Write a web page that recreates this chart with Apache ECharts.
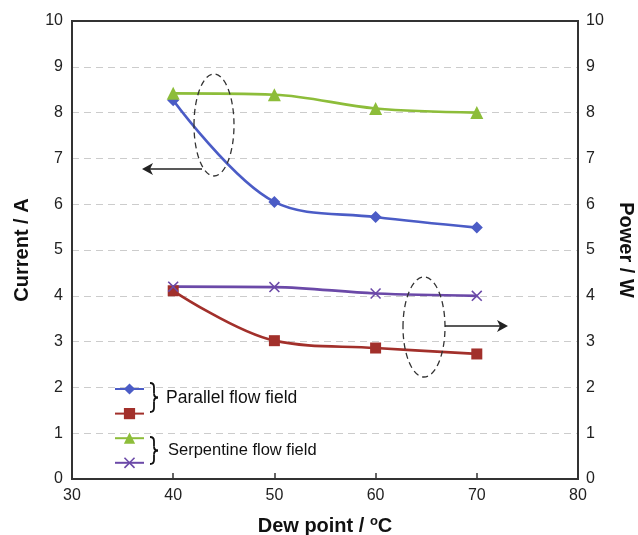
<!DOCTYPE html>
<html><head><meta charset="utf-8">
<script src="https://cdn.jsdelivr.net/npm/echarts@6/dist/echarts.min.js"></script>
<style>html,body{margin:0;padding:0;background:#fff}#c{width:638px;height:535px}</style>
</head><body><div id="c"></div>
<script>
const dewPoint = [40, 50, 60, 70];
const parallelCurrent = [8.27, 6.05, 5.72, 5.49];
const serpentineCurrent = [8.42, 8.39, 8.09, 8.0];
const parallelPower = [4.11, 3.02, 2.86, 2.73];
const serpentinePower = [4.2, 4.19, 4.05, 4.0];
const xTicks = [30, 40, 50, 60, 70, 80];
const yTicks = [0, 1, 2, 3, 4, 5, 6, 7, 8, 9, 10];

const pair = (xs, ys) => xs.map((x, i) => [x, ys[i]]);
const xPath = 'path://M0,1 L1,0 L5,4 L9,0 L10,1 L6,5 L10,9 L9,10 L5,6 L1,10 L0,9 L4,5 Z';
const font = 'Liberation Sans, Arial, sans-serif';

function brace(x, y1, y2) {
  const ym = (y1 + y2) / 2, m = x + 4, tip = x + 8, r = 4;
  const st = {stroke: '#111', lineWidth: 1.8, fill: 'none'};
  const q = (ax, ay, cx, cy, bx, by) => ({type: 'bezierCurve', shape: {x1: ax, y1: ay, cpx1: cx, cpy1: cy, x2: bx, y2: by}, style: st, z: 10});
  const l = (ax, ay, bx, by) => ({type: 'line', shape: {x1: ax, y1: ay, x2: bx, y2: by}, style: st, z: 10});
  return [
    q(x, y1, m, y1, m, y1 + r), l(m, y1 + r, m, ym - r), q(m, ym - r, m, ym, tip, ym),
    q(tip, ym, m, ym, m, ym + r), l(m, ym + r, m, y2 - r), q(m, y2 - r, m, y2, x, y2)
  ];
}

const chart = echarts.init(document.getElementById('c'), null, {renderer: 'canvas'});
const mkSeries = (name, data, yIdx, color, symbol, size) => ({
  name, type: 'line', yAxisIndex: yIdx, data, smooth: 0.35,
  symbol, symbolSize: size, lineStyle: {color, width: 2.7},
  itemStyle: {color}, z: 3
});
chart.setOption({
  animation: false,
  grid: {left: 72, right: 60, top: 21, bottom: 56, outerBoundsMode: 'none', containLabel: false,
    show: true, borderColor: '#333', borderWidth: 2, backgroundColor: 'transparent'},
  xAxis: [{
    type: 'value', min: xTicks[0], max: xTicks[xTicks.length - 1], interval: 10,
    axisLine: {show: true, lineStyle: {color: '#333', width: 2}},
    axisTick: {show: true, inside: true, length: 6, lineStyle: {color: '#333', width: 1.5}},
    axisLabel: {color: '#222', fontSize: 16, fontFamily: font, margin: 9},
    splitLine: {show: false},
    name: 'Dew point / {sup|o}C', nameLocation: 'middle', nameGap: 36,
    nameTextStyle: {fontSize: 20, fontWeight: 'bold', color: '#111', fontFamily: font,
      rich: {sup: {fontSize: 13, fontWeight: 'bold', color: '#111', verticalAlign: 'top', padding: [0, 0, 9, 0], fontFamily: font}}}
  }, {
    type: 'value', position: 'top', min: xTicks[0], max: xTicks[xTicks.length - 1], interval: 10,
    axisLine: {show: true, lineStyle: {color: '#333', width: 2}},
    axisTick: {show: false}, axisLabel: {show: false}, splitLine: {show: false}
  }],
  yAxis: [{
    type: 'value', min: 0, max: 10, interval: 1, position: 'left',
    axisLine: {show: true, lineStyle: {color: '#333', width: 2}},
    axisTick: {show: false},
    axisLabel: {color: '#222', fontSize: 16, fontFamily: font, margin: 9},
    splitLine: {show: true, showMinLine: false, showMaxLine: false, lineStyle: {color: '#ccc', type: [7, 5], width: 1}},
    name: 'Current / A', nameLocation: 'middle', nameGap: 40,
    nameTextStyle: {fontSize: 20, fontWeight: 'bold', color: '#111', fontFamily: font}
  }, {
    type: 'value', min: 0, max: 10, interval: 1, position: 'right',
    axisLine: {show: true, lineStyle: {color: '#333', width: 2}},
    axisTick: {show: false},
    axisLabel: {color: '#222', fontSize: 16, fontFamily: font, margin: 8},
    splitLine: {show: false},
    name: 'Power / W', nameLocation: 'middle', nameGap: 38, nameRotate: -90,
    nameTextStyle: {fontSize: 20, fontWeight: 'bold', color: '#111', fontFamily: font}
  }],
  legend: {
    orient: 'vertical', left: 109, top: 377, itemGap: 12, itemWidth: 29, itemHeight: 14,
    formatter: () => '', selectedMode: false,
    data: ['Parallel current', 'Parallel power', 'Serpentine current', 'Serpentine power']
  },
  series: [
    mkSeries('Parallel current', pair(dewPoint, parallelCurrent), 0, '#4b5cc6', 'diamond', 12),
    mkSeries('Parallel power', pair(dewPoint, parallelPower), 1, '#a2302b', 'rect', 11),
    mkSeries('Serpentine current', pair(dewPoint, serpentineCurrent), 0, '#8dbd3a', 'triangle', 13),
    mkSeries('Serpentine power', pair(dewPoint, serpentinePower), 1, '#6b49a8', xPath, 11)
  ],
  graphic: [
    {type: 'ellipse', shape: {cx: 214, cy: 125, rx: 20, ry: 51}, style: {fill: 'none', stroke: '#333', lineWidth: 1.3, lineDash: [6, 4]}, z: 10},
    {type: 'line', shape: {x1: 202, y1: 169, x2: 147, y2: 169}, style: {stroke: '#222', lineWidth: 1.5}, z: 10},
    {type: 'polygon', shape: {points: [[142, 169], [153, 163], [150, 169], [153, 175]]}, style: {fill: '#222'}, z: 10},
    {type: 'ellipse', shape: {cx: 424, cy: 327, rx: 21, ry: 50}, style: {fill: 'none', stroke: '#333', lineWidth: 1.3, lineDash: [6, 4]}, z: 10},
    {type: 'line', shape: {x1: 445, y1: 326, x2: 503, y2: 326}, style: {stroke: '#222', lineWidth: 1.5}, z: 10},
    {type: 'polygon', shape: {points: [[508, 326], [497, 320], [500, 326], [497, 332]]}, style: {fill: '#222'}, z: 10},
    ...brace(150, 383, 412),
    ...brace(150, 437, 464),
    {type: 'text', left: 166, top: 389, style: {text: 'Parallel flow field', fontSize: 17.5, fontFamily: font, fill: '#111'}, z: 10},
    {type: 'text', left: 168, top: 442, style: {text: 'Serpentine flow field', fontSize: 16.5, fontFamily: font, fill: '#111'}, z: 10}
  ]
});
</script></body></html>
